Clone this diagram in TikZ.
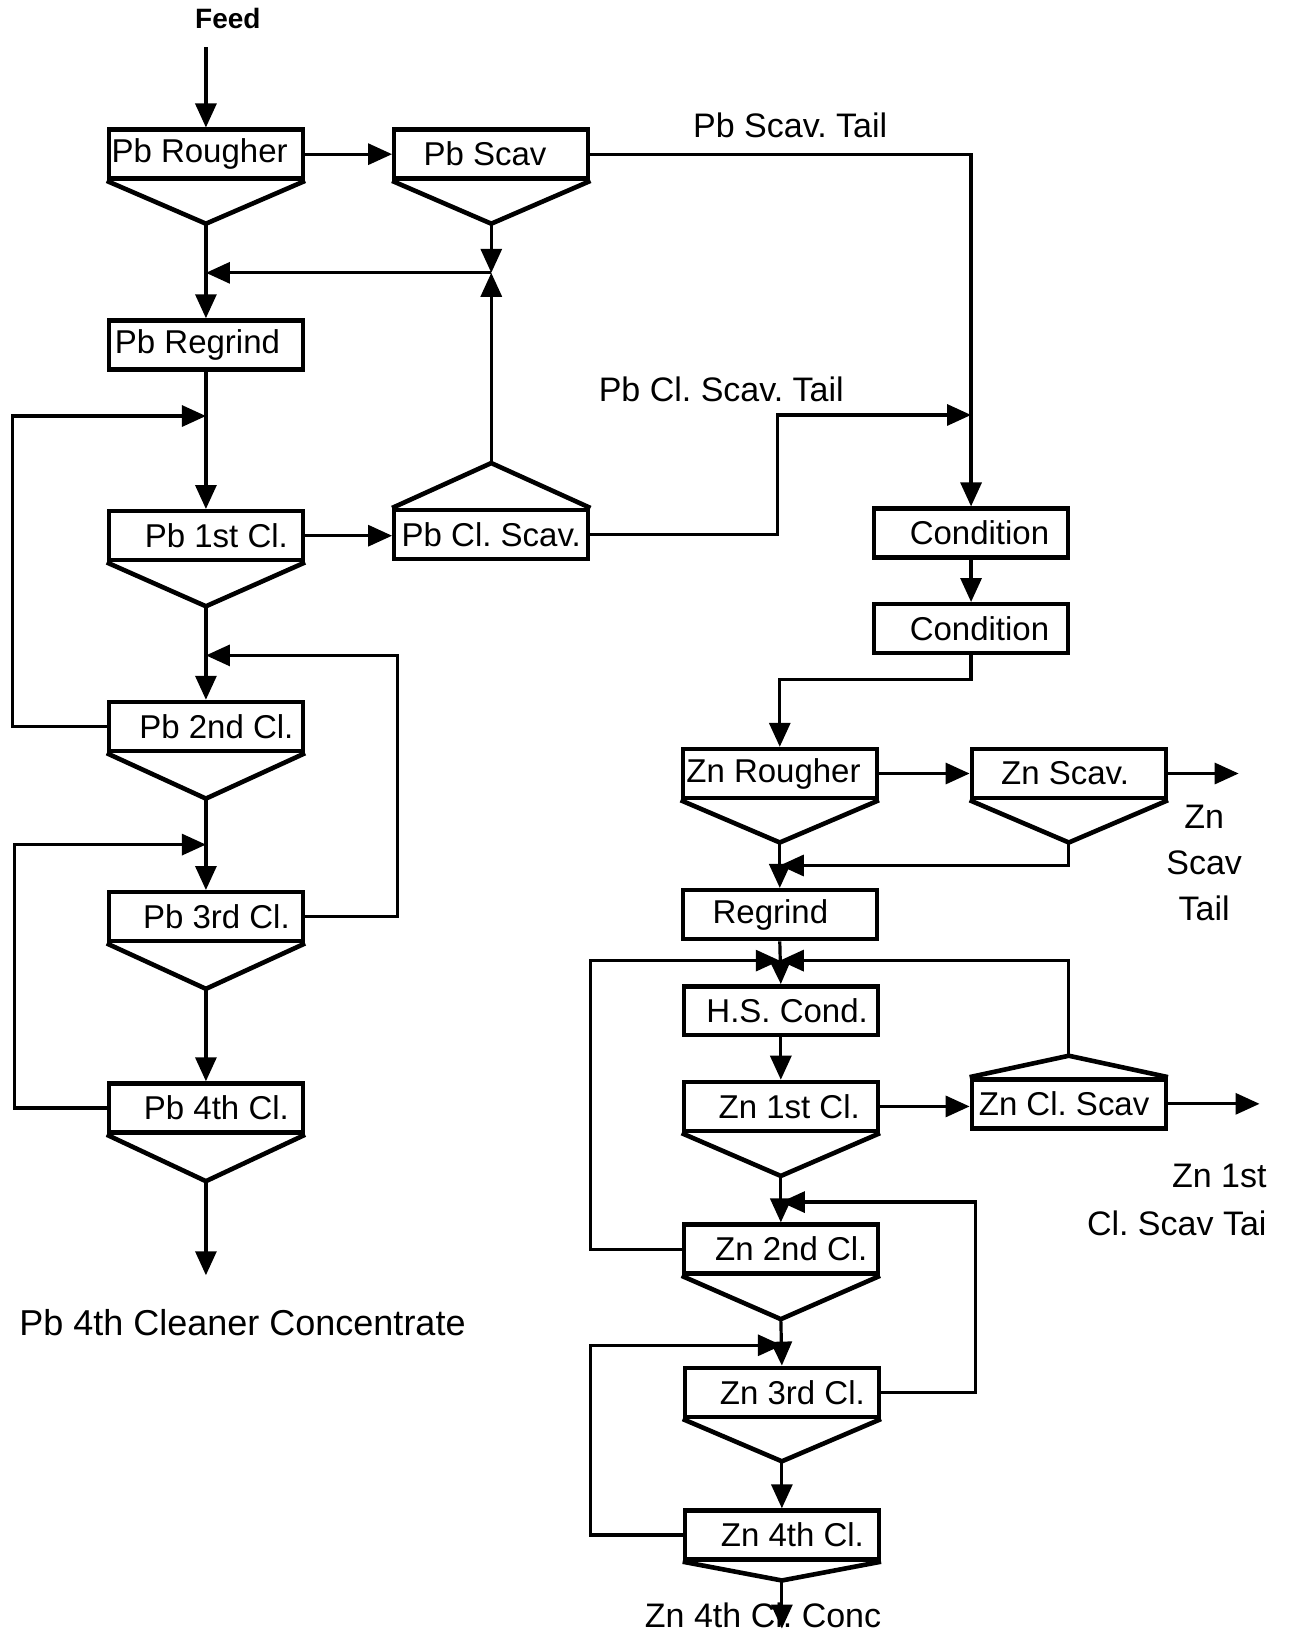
\documentclass[tikz,border=0pt]{standalone}
\usepackage{fontspec}
\setmainfont{Liberation Sans}
\usetikzlibrary{arrows.meta}
\frenchspacing
\begin{document}
\begin{tikzpicture}[x=0.5227pt,y=-0.5227pt,
  every node/.style={font=\fontsize{16.5}{19}\selectfont},
  box/.style={draw,line width=2.2pt,minimum width=97pt,minimum height=24.5pt,inner sep=0pt},
  tri/.style={line width=2.3pt,line join=miter},
  conn/.style={line width=1.6pt,-{Triangle[length=12pt,width=10.5pt]}},
  lbl/.style={inner sep=0pt,font=\fontsize{17}{19}\selectfont}]
\useasboundingbox (0,0) rectangle (1234,1568);
\fill[white] (0,0) rectangle (1234,1568);

% ---------- boxes ----------
\node[box] (pbr)  at (197,147.5) {Pb Rougher\hspace*{6.3pt}};
\node[box] (pbs)  at (470,147.5) {Pb Scav\hspace*{6.3pt}};
\node[box] (pbrg) at (197,330)   {Pb Regrind\hspace*{8.4pt}};
\node[box] (pb1)  at (197,512.5) {\hspace*{10.5pt}Pb 1st Cl.};
\node[box] (pbcs) at (470,511.5) {Pb Cl. Scav.};
\node[box] (pb2)  at (197,695)   {\hspace*{10.5pt}Pb 2nd Cl.};
\node[box] (pb3)  at (197,877)   {\hspace*{10.5pt}Pb 3rd Cl.};
\node[box] (pb4)  at (197,1060)  {\hspace*{10.5pt}Pb 4th Cl.};
\node[box] (cond1) at (929,510)  {\hspace*{8.4pt}Condition};
\node[box] (cond2) at (929,601.5){\hspace*{8.4pt}Condition};
\node[box] (zr)   at (746,740)   {Zn Rougher\hspace*{6.3pt}};
\node[box] (zs)   at (1022.5,740){Zn Scav.\hspace*{3.7pt}};
\node[box] (zrg)  at (746,875)   {Regrind\hspace*{9.4pt}};
\node[box] (hs)   at (747,967)   {\hspace*{6.3pt}H.S. Cond.};
\node[box] (z1)   at (747,1058.5){\hspace*{8.4pt}Zn 1st Cl.};
\node[box] (zcs)  at (1022.5,1056){Zn Cl. Scav\hspace*{4.7pt}};
\node[box] (z2)   at (747,1195)  {\hspace*{10.5pt}Zn 2nd Cl.};
\node[box] (z3)   at (748,1332)  {\hspace*{10.5pt}Zn 3rd Cl.};
\node[box] (z4)   at (748,1468.5){\hspace*{10.5pt}Zn 4th Cl.};

% ---------- apex coordinates ----------
\coordinate (pbrA) at (197,214);
\coordinate (pbsA) at (470,214);
\coordinate (pb1A) at (197,580);
\coordinate (pbcsA) at (470,443);
\coordinate (pb2A) at (197,764);
\coordinate (pb3A) at (197,946);
\coordinate (pb4A) at (197,1130);
\coordinate (zrA) at (746,806);
\coordinate (zsA) at (1022.5,806);
\coordinate (z1A) at (747,1125);
\coordinate (zcsA) at (1022.5,1010);
\coordinate (z2A) at (747,1262);
\coordinate (z3A) at (748,1398);
\coordinate (z4A) at (748,1512);

% ---------- triangles ----------
\foreach \b in {pbr,pbs,pb1,pb2,pb3,pb4,zr,zs,z1,z2,z3,z4}
  \draw[tri] (\b.south west) -- (\b A) -- (\b.south east);
\draw[tri] (pbcs.north west) -- (pbcsA) -- (pbcs.north east);
\draw[tri] (zcs.north west) -- (zcsA) -- (zcs.north east);

% ---------- junction / end coordinates ----------
\coordinate (feedS) at (197,45);
\coordinate (j1) at (470,261);
\coordinate (jA) at (197,398);
\coordinate (jB) at (197,627);
\coordinate (jC) at (197,808);
\coordinate (jI) at (929,397);
\coordinate (jE) at (746,828);
\coordinate (jF) at (746,919);
\coordinate (jG) at (747,1150);
\coordinate (jH) at (748,1287);
\coordinate (pbend) at (197,1220);
\coordinate (zend) at (748,1558);
\coordinate (zsT) at (1185,740);
\coordinate (zcsT) at (1205,1056);

% ---------- texts ----------
\node[inner sep=0pt,font=\fontsize{14}{16}\bfseries] (feed) at (218,18) {Feed};
\node[lbl] (t1) at (756,120) {Pb Scav. Tail};
\node[lbl] (t2) at (690,372) {Pb Cl. Scav. Tail};
\node[lbl,align=center,font=\fontsize{17}{23}\selectfont] (t3) at (1152,826) {Zn\\Scav\\Tail};
\node[lbl,anchor=east] (t4) at (1212,1125) {Zn 1st};
\node[lbl,anchor=east] (t5) at (1212,1170) {Cl. Scav Tai};
\node[lbl,font=\fontsize{18}{20}\selectfont] (t6) at (232,1265) {Pb 4th Cleaner Concentrate};
\node[lbl,anchor=base] (t7) at (730,1557) {Zn 4th Cl. Conc};

% ---------- connectors: Pb circuit ----------
\draw[conn] (feedS) -- (feedS |- pbr.north);
\draw[conn] (pbr.east) -- (pbs.west);
\draw[conn] (pbs.east) -| (cond1.north);
\draw[conn] (pbsA) -- (j1);
\draw[conn] (pbcsA) -- (j1);
\draw[conn] (j1) -- (j1 -| pbrA);
\draw[conn] (pbrA) -- (pbrA |- pbrg.north);
\draw[conn] (pbrg.south) -- (pb1.north);
\draw[conn] (pb1.east) -- (pb1.east -| pbcs.west);
\draw[conn] (pbcs.east) -- (744,511.5) |- (jI);
\draw[conn] (pb1A) -- (pb2.north);
\draw[conn] (pb2.west) -- (12,695) |- (jA);
\draw[conn] (pb2A) -- (pb3.north);
\draw[conn] (pb3.east) -- (380,877) |- (jB);
\draw[conn] (pb3A) -- (pb4.north);
\draw[conn] (pb4.west) -- (14,1060) |- (jC);
\draw[conn] (pb4A) -- (pbend);

% ---------- connectors: Zn circuit ----------
\draw[conn] (cond1.south) -- (cond2.north);
\draw[conn] (cond2.south) -- ++(0,23) -| (zr.north);
\draw[conn] (zr.east) -- (zs.west);
\draw[conn] (zs.east) -- (zsT);
\draw[conn] (zsA) |- (jE);
\draw[conn] (zrA) -- (zrg.north);
\draw[conn] (zrg.south) -- (hs.north);
\draw[conn] (z2.west) -- (565,1195) |- (jF);
\draw[conn] (zcsA) |- (jF);
\draw[conn] (hs.south) -- (z1.north);
\draw[conn] (z1.east) -- (z1.east -| zcs.west);
\draw[conn] (zcs.east) -- (zcsT);
\draw[conn] (z1A) -- (z2.north);
\draw[conn] (z3.east) -- (933,1332) |- (jG);
\draw[conn] (z2A) -- (z3.north);
\draw[conn] (z4.west) -- (565,1468.5) |- (jH);
\draw[conn] (z3A) -- (z4.north);
\draw[conn] (z4A) -- (zend);
\end{tikzpicture}
\end{document}
